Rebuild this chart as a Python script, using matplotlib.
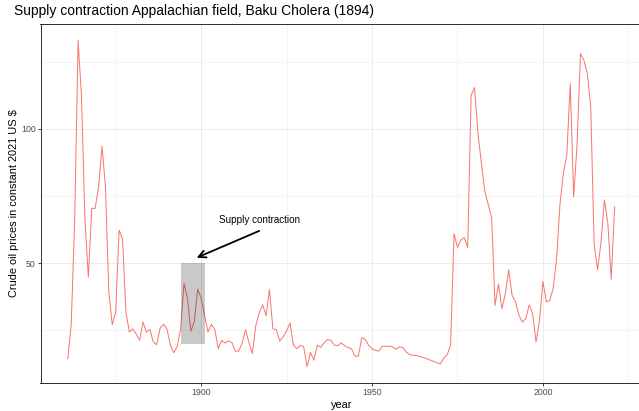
import numpy as np
import matplotlib
matplotlib.use("Agg")
import matplotlib.pyplot as plt
from matplotlib.patches import Rectangle


# crude oil prices, constant 2021 US $
YEARS = list(range(1861, 2022))
PRICES = [
    14.4, 27.4, 66.0, 133.0, 112.0, 66.3, 44.7, 70.4, 70.4, 78.6,   # 1861-1870
    93.5, 78.6, 39.1, 27.0, 31.7, 62.3, 58.9, 31.7, 24.3, 25.5,     # 1871-1880
    23.6, 21.2, 28.0, 24.3, 25.3, 20.6, 19.6, 25.8, 27.2, 25.5,     # 1881-1890
    19.4, 16.6, 18.9, 25.5, 42.5, 36.9, 24.6, 28.2, 40.3, 36.9,     # 1891-1900
    30.5, 24.3, 27.2, 25.3, 18.1, 21.2, 20.2, 21.0, 20.4, 17.2,     # 1901-1910
    17.2, 20.2, 25.2, 20.4, 16.3, 26.8, 31.4, 34.5, 30.3, 40.1,     # 1911-1920
    25.5, 25.2, 20.9, 22.5, 24.7, 27.7, 19.4, 18.1, 19.4, 18.8,     # 1921-1930
    11.4, 16.7, 13.8, 19.4, 18.6, 20.4, 21.5, 21.2, 19.4, 19.2,     # 1931-1940
    20.3, 19.2, 18.5, 18.1, 15.3, 15.3, 22.2, 21.6, 19.4, 18.1,     # 1941-1950
    17.5, 17.2, 19.0, 19.0, 19.0, 18.8, 17.9, 18.8, 18.5, 16.9,     # 1951-1960
    15.9, 15.7, 15.5, 15.2, 14.8, 14.4, 13.9, 13.4, 12.9, 12.4,     # 1961-1970
    14.6, 15.9, 19.4, 61.0, 55.8, 58.6, 59.5, 55.8, 112.5, 115.4,   # 1971-1980
    98.4, 87.3, 76.8, 71.9, 66.9, 34.2, 42.2, 33.0, 38.5, 47.5,     # 1981-1990
    37.9, 35.6, 30.5, 28.0, 29.3, 34.4, 31.1, 20.6, 28.6, 43.2,     # 1991-2000
    35.6, 36.0, 40.6, 51.5, 71.9, 83.6, 90.4, 116.9, 74.7, 94.1,    # 2001-2010
    128.0, 125.6, 120.6, 108.3, 57.0, 47.5, 57.7, 73.5, 65.0, 44.0, # 2011-2020
    71.0,                                                           # 2021
]

TITLE = "Supply contraction Appalachian field, Baku Cholera (1894)"
X_LABEL = "year"
Y_LABEL = "Crude oil prices in constant 2021 US $"
NOTE = "Supply contraction"

# shaded episode and arrow annotation
SHADE_X = (1894, 1901)
SHADE_Y = (20, 50)
ARROW_FROM = (1917, 62)
ARROW_TO = (1898.7, 52)
NOTE_AT = (1917, 66)

X_MAJOR = [1900, 1950, 2000]
X_MINOR = [1875, 1925, 1975, 2025]
Y_MAJOR = [50, 100]
Y_MINOR = [25, 75, 125]


def expanded(lo, hi, mult=0.05):
    pad = (hi - lo) * mult
    return lo - pad, hi + pad


def main():
    plt.rcParams["font.family"] = ["Liberation Sans", "DejaVu Sans"]

    W, H = 639, 411
    fig = plt.figure(figsize=(W / 72, H / 72), dpi=72)

    left, right, top, bottom = 40.5, 642, 24, 383
    ax = fig.add_axes([left / W, 1 - bottom / H, (right - left) / W, (bottom - top) / H])

    ax.plot(YEARS, PRICES, color="#F8766D", lw=1.0, zorder=3)

    ax.add_patch(Rectangle((SHADE_X[0], SHADE_Y[0]), SHADE_X[1] - SHADE_X[0],
                           SHADE_Y[1] - SHADE_Y[0], facecolor="black",
                           alpha=0.21, edgecolor="none", zorder=4))

    ax.annotate("", xy=ARROW_TO, xytext=ARROW_FROM,
                arrowprops=dict(arrowstyle="->", color="black", lw=1.8,
                                mutation_scale=18, shrinkA=0, shrinkB=0),
                zorder=5)
    ax.text(*NOTE_AT, NOTE, ha="center", va="center", fontsize=9.9, color="black")

    ax.set_xlim(*expanded(min(YEARS), max(YEARS)))
    ax.set_ylim(*expanded(min(PRICES), max(PRICES)))

    ax.set_xticks(X_MAJOR)
    ax.set_xticks(X_MINOR, minor=True)
    ax.set_yticks(Y_MAJOR)
    ax.set_yticks(Y_MINOR, minor=True)

    ax.grid(which="major", color="#EBEBEB", lw=1.0)
    ax.grid(which="minor", color="#EBEBEB", lw=0.55)
    ax.set_axisbelow(True)

    ax.tick_params(which="major", direction="out", length=2.75, width=0.9,
                   color="#333333", labelcolor="#4D4D4D", labelsize=8.8, pad=2.2)
    ax.tick_params(which="minor", length=0)

    for s in ax.spines.values():
        s.set_color("#333333")
        s.set_linewidth(1.0)

    ax.set_xlabel(X_LABEL, fontsize=11, color="black", va="center")
    ax.xaxis.set_label_coords(0.5, (bottom - 405) / (bottom - top))
    ax.set_ylabel(Y_LABEL, fontsize=11, color="black", va="center")
    ax.yaxis.set_label_coords((14 - left) / (right - left), 0.5)

    fig.text(14 / W, 1 - 11 / H, TITLE, fontsize=13.9, color="black",
             ha="left", va="center")

    fig.savefig("out.png", dpi=72, facecolor="white")


if __name__ == "__main__":
    main()
